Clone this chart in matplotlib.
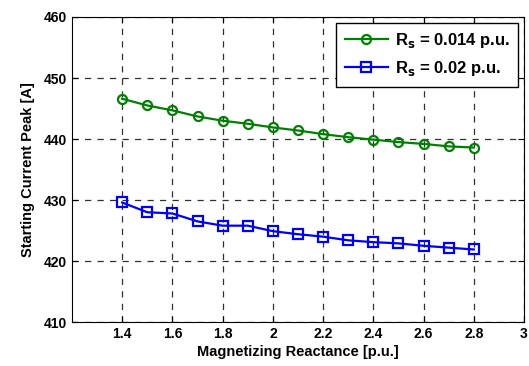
import matplotlib.pyplot as plt
import numpy as np

plt.rcParams['font.family'] = ['Liberation Sans', 'DejaVu Sans']
plt.rcParams['font.weight'] = 'bold'

# magnetizing reactance [p.u.]
xm = [1.4, 1.5, 1.6, 1.7, 1.8, 1.9, 2.0, 2.1, 2.2, 2.3, 2.4, 2.5, 2.6, 2.7, 2.8]
# starting current peak [A]
peak_rs014 = [446.6, 445.5, 444.7, 443.7, 443.0, 442.5, 441.9, 441.4, 440.8,
              440.3, 439.9, 439.5, 439.2, 438.8, 438.6]
peak_rs02 = [429.6, 428.0, 427.8, 426.5, 425.8, 425.8, 424.9, 424.4, 424.0,
             423.4, 423.1, 422.9, 422.5, 422.2, 421.9]

fig = plt.figure(figsize=(5.29, 3.66), dpi=100)
ax = fig.add_axes([0.136, 0.120, 0.8545, 0.8336])

ax.plot(xm, peak_rs014, color='green', lw=1.6, marker='o', ms=6.5,
        mfc='none', mew=1.6, label=r'R$_\mathbf{s}$ = 0.014 p.u.')
ax.plot(xm, peak_rs02, color='blue', lw=1.6, marker='s', ms=6.5,
        mfc='none', mew=1.6, label=r'R$_\mathbf{s}$ = 0.02 p.u.')

ax.set_xlim(1.2, 3.0)
ax.set_ylim(410, 460)
ax.set_xticks(np.arange(1.4, 3.01, 0.2))
ax.set_xticklabels(['1.4', '1.6', '1.8', '2', '2.2', '2.4', '2.6', '2.8', '3'])
ax.set_yticks(range(410, 461, 10))
ax.tick_params(direction='in', top=True, right=True, labelsize=10, length=4)
ax.grid(True, color='#303030', linestyle=(0, (5, 5)), lw=0.9)

ax.set_xlabel('Magnetizing Reactance [p.u.]', fontsize=10.5, fontweight='bold', labelpad=3)
ax.set_ylabel('Starting Current Peak [A]', fontsize=10.5, fontweight='bold', labelpad=6)

leg = ax.legend(loc='upper right', fontsize=12, fancybox=False, framealpha=1,
                edgecolor='black', borderaxespad=0.35, handlelength=2.6,
                labelspacing=0.55, handletextpad=0.4, borderpad=0.5)
leg.get_frame().set_linewidth(1.0)

fig.savefig('out.png', dpi=100)
